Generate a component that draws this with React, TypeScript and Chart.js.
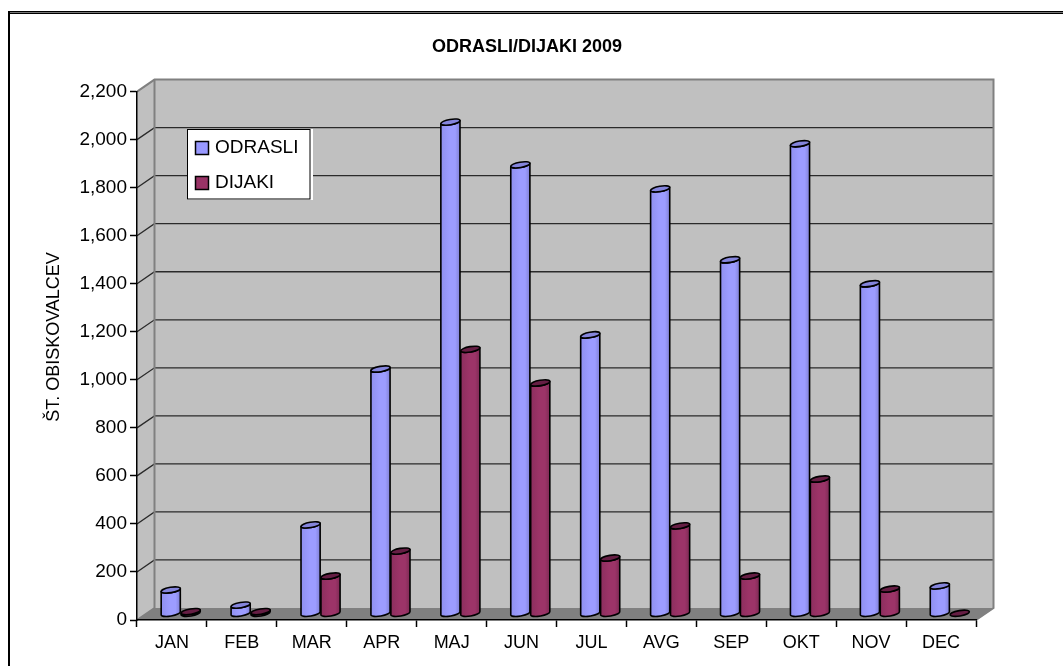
import React, { useEffect, useRef } from "react";
import { Chart, BarController, BarElement, registerables } from "chart.js";

const categories = ["JAN", "FEB", "MAR", "APR", "MAJ", "JUN", "JUL", "AVG", "SEP", "OKT", "NOV", "DEC"];
const odrasli = [100, 37, 371, 1020, 2048, 1870, 1162, 1770, 1475, 1958, 1375, 117];
const dijaki = [10, 10, 158, 262, 1102, 962, 233, 367, 158, 562, 104, 3];
const chartTitle = "ODRASLI/DIJAKI 2009";
const yTitle = "ŠT. OBISKOVALCEV";

const FONT = '"Liberation Sans", Arial, sans-serif';
const DX = 17.5;
const DY = -12;
const palette: Record<string, { l: string; m: string; r: string; cap: string }> = {
  "#9999FF": { l: "#8F8FEF", m: "#9C9CFF", r: "#8080D6", cap: "#8585DC" },
  "#993366": { l: "#8C2E5E", m: "#9C3468", r: "#7D2A54", cap: "#661E44" },
};

class CylinderElement extends BarElement {
  static id = "cylinder";
  draw(ctx: CanvasRenderingContext2D) {
    const { x, y, base, width } = (this as any).getProps(["x", "y", "base", "width"]);
    const key = (this as any).options.backgroundColor as string;
    const c = palette[key];
    const cx = x + DX / 2;
    const topY = y + DY / 2;
    const botY = base + DY / 2 - 0.2;
    const hw = width / 2 - 0.4;
    const tilt = -0.17;
    const ry = 2.7;
    const rx = hw / Math.cos(tilt);
    const s = hw * Math.tan(-tilt);
    ctx.save();
    ctx.lineWidth = 1.6;
    ctx.strokeStyle = "#000";
    ctx.lineJoin = "round";
    if (botY - topY > 1) {
      const g = ctx.createLinearGradient(cx - hw, 0, cx + hw, 0);
      g.addColorStop(0, c.l);
      g.addColorStop(0.45, c.m);
      g.addColorStop(0.75, c.m);
      g.addColorStop(1, c.r);
      ctx.beginPath();
      ctx.moveTo(cx - hw, topY + s);
      ctx.lineTo(cx - hw, botY + s);
      ctx.ellipse(cx, botY, rx, ry, tilt, Math.PI, 0, true);
      ctx.lineTo(cx + hw, topY - s);
      ctx.ellipse(cx, topY, rx, ry, tilt, 0, Math.PI, false);
      ctx.closePath();
      ctx.fillStyle = g;
      ctx.fill();
      ctx.stroke();
    }
    ctx.beginPath();
    ctx.ellipse(cx, topY, rx, ry, tilt, 0, Math.PI * 2);
    ctx.fillStyle = c.cap;
    ctx.fill();
    ctx.stroke();
    ctx.restore();
  }
}

class CylinderController extends BarController {
  static id = "cylinder";
  static defaults = { ...(BarController as any).defaults, dataElementType: "cylinder" };
  static overrides = (BarController as any).overrides;
}

Chart.register(...registerables, CylinderElement as any, CylinderController as any);

const scene = {
  id: "scene",
  beforeDraw(chart: any) {
    const { ctx, chartArea: a, scales } = chart;
    const yS = scales.y;
    const bx = a.left + DX, by = a.top + DY, bb = a.bottom + DY, br = a.right + DX;
    ctx.save();
    // frame
    ctx.fillStyle = "#000";
    ctx.fillRect(8, 11, 1055, 3);
    ctx.fillRect(8, 11, 2, 655);
    ctx.fillStyle = "#777";
    ctx.fillRect(10, 12, 1053, 1);
    // walls
    ctx.fillStyle = "#C0C0C0";
    ctx.fillRect(bx, by, br - bx, bb - by);
    ctx.beginPath();
    ctx.moveTo(a.left, a.top);
    ctx.lineTo(bx, by);
    ctx.lineTo(bx, bb);
    ctx.lineTo(a.left, a.bottom);
    ctx.closePath();
    ctx.fill();
    // floor
    ctx.fillStyle = "#808080";
    ctx.beginPath();
    ctx.moveTo(a.left, a.bottom);
    ctx.lineTo(a.right, a.bottom);
    ctx.lineTo(br, bb);
    ctx.lineTo(bx, bb);
    ctx.closePath();
    ctx.fill();
    // grid lines on the walls
    ctx.strokeStyle = "#2A2A2A";
    ctx.lineWidth = 1.3;
    yS.ticks.forEach((t: any) => {
      if (t.value === 0 || t.value === yS.max) return;
      const p = yS.getPixelForValue(t.value);
      ctx.beginPath();
      ctx.moveTo(a.left, p);
      ctx.lineTo(bx, p + DY);
      ctx.lineTo(br, p + DY);
      ctx.stroke();
    });
    // wall edges
    ctx.strokeStyle = "#808080";
    ctx.lineWidth = 2;
    ctx.beginPath();
    ctx.moveTo(a.left, a.top);
    ctx.lineTo(bx, by);
    ctx.lineTo(br, by);
    ctx.lineTo(br, bb);
    ctx.lineTo(a.right, a.bottom);
    ctx.stroke();
    ctx.beginPath();
    ctx.moveTo(bx, by);
    ctx.lineTo(bx, bb);
    ctx.lineTo(a.left, a.bottom);
    ctx.stroke();
    ctx.restore();
  },
  afterDraw(chart: any) {
    const { ctx } = chart;
    ctx.save();
    // y-axis title
    ctx.translate(54, 337);
    ctx.rotate(-Math.PI / 2);
    ctx.font = `18px ${FONT}`;
    ctx.fillStyle = "#000";
    ctx.textAlign = "center";
    ctx.textBaseline = "middle";
    ctx.fillText(yTitle, 0, 0);
    ctx.restore();
    // legend
    ctx.save();
    ctx.fillStyle = "#fff";
    ctx.fillRect(187, 129, 126, 71);
    ctx.strokeStyle = "#000";
    ctx.lineWidth = 1;
    ctx.strokeRect(187.5, 129.5, 122.5, 69.5);
    ctx.font = `19px ${FONT}`;
    ctx.textBaseline = "middle";
    chart.data.datasets.forEach((d: any, i: number) => {
      const yy = 141 + i * 35;
      ctx.fillStyle = d.backgroundColor;
      ctx.fillRect(195.5, yy + 0.5, 13, 13);
      ctx.strokeStyle = "#000";
      ctx.lineWidth = 1.5;
      ctx.strokeRect(195.5, yy + 0.5, 13, 13);
      ctx.fillStyle = "#000";
      ctx.fillText(d.label, 215, yy + 7);
    });
    ctx.restore();
  },
};

export default function App() {
  const ref = useRef<HTMLCanvasElement>(null);
  useEffect(() => {
    const chart = new Chart(ref.current!, {
      type: "cylinder" as any,
      data: {
        labels: categories,
        datasets: [
          { label: "ODRASLI", data: odrasli, backgroundColor: "#9999FF", clip: false } as any,
          { label: "DIJAKI", data: dijaki, backgroundColor: "#993366", clip: false } as any,
        ],
      },
      plugins: [scene as any],
      options: {
        animation: false,
        responsive: false,
        categoryPercentage: 0.57,
        barPercentage: 1,
        layout: { padding: { left: 0, top: 0, right: 9, bottom: 0 } },
        plugins: {
          legend: { display: false },
          tooltip: { enabled: false },
          title: {
            display: true,
            text: chartTitle,
            color: "#000",
            font: { family: FONT, size: 18, weight: "bold" },
            padding: { top: 36, bottom: 34 },
          },
        },
        scales: {
          x: {
            type: "category",
            offset: true,
            afterFit: (s: any) => { s.height = 46; },
            border: { color: "#000", width: 1.5 },
            grid: { drawOnChartArea: false, drawTicks: true, tickLength: 7, offset: true, color: "#000", tickWidth: 1.5 },
            ticks: { color: "#000", font: { family: FONT, size: 18 }, padding: 5, maxRotation: 0, autoSkip: false },
          },
          y: {
            type: "linear",
            min: 0,
            max: 2200,
            afterFit: (s: any) => { s.width = 137; },
            border: { color: "#000", width: 1.5 },
            grid: { drawOnChartArea: false, drawTicks: true, tickLength: 7, color: "#000", tickWidth: 1.5 },
            ticks: { stepSize: 200, color: "#000", font: { family: FONT, size: 19 }, padding: 3 },
          },
          spacer: {
            type: "linear",
            position: "right",
            afterFit: (s: any) => { s.width = 78; },
            border: { display: false },
            grid: { display: false },
            ticks: { display: false },
          },
        },
      } as any,
    });
    return () => chart.destroy();
  }, []);
  return (
    <div style={{ position: "absolute", left: 0, top: 0, width: 1063, height: 666, overflow: "hidden", background: "#fff" }}>
      <canvas ref={ref} width={1063} height={666} style={{ display: "block" }} />
    </div>
  );
}
